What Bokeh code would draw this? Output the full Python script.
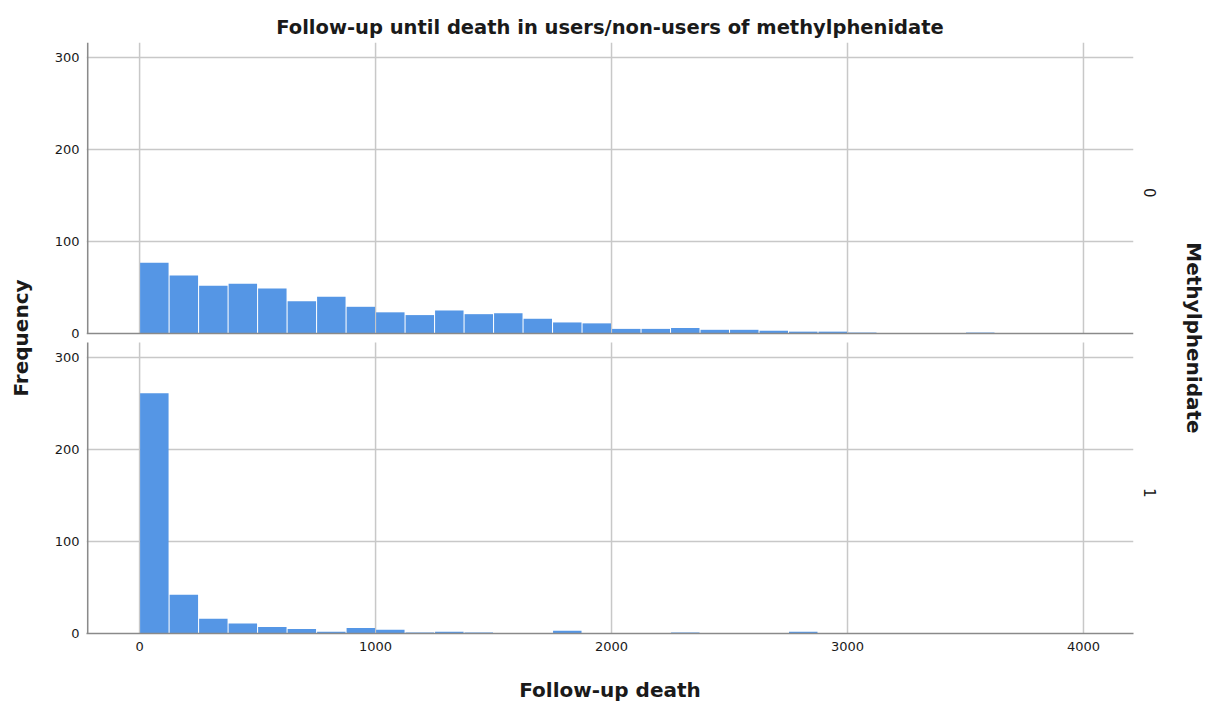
import math
import numpy as np
from bokeh.plotting import figure
from bokeh.models import Range1d, FixedTicker, LinearAxis, Span, ColumnDataSource
from bokeh.embed import file_html
from bokeh.resources import INLINE

# ---------------- data ----------------
bin_width = 125
# counts per 125-day bin, starting at 0 (bins 0-125, 125-250, ...)
counts_methyl0 = [77, 63, 52, 54, 49, 35, 40, 29, 23, 20, 25, 21, 22, 16, 12, 11,
                  5, 5, 6, 4, 4, 3, 2, 2, 1, 0, 0, 0, 1]
counts_methyl1 = [261, 42, 16, 11, 7, 5, 2, 6, 4, 1, 2, 1, 0, 0, 3, 0,
                  0, 0, 1, 0, 0, 0, 2, 0, 0, 0, 0, 0, 0]
x_ticks = [0, 1000, 2000, 3000, 4000]
y_ticks = [0, 100, 200, 300]
panel_labels = ["0", "1"]  # top panel, bottom panel

# ---------------- layout constants ----------------
TOP_OFFSET = 326        # data offset of the upper panel
PANEL_SPAN = 316.2      # visible height of one panel (data units)
Y_MAX = TOP_OFFSET + PANEL_SPAN
X_LO, X_HI = -225, 4212
AXIS_X = -220

BAR = "#5596e5"
GRID = "#c8c8c8"
AXIS = "#8a8a8a"
FONT = "DejaVu Sans"
TXT = "#1a1a1a"

p = figure(width=1208, height=704, x_range=Range1d(X_LO, X_HI), y_range=Range1d(0, Y_MAX),
           output_backend="svg", toolbar_location=None,
           min_border_left=86, min_border_right=75, min_border_top=42, min_border_bottom=71,
           title="Follow-up until death in users/non-users of methylphenidate")
p.outline_line_color = None
p.background_fill_color = "white"
p.border_fill_color = "white"

p.title.align = "center"
p.title.text_font = FONT
p.title.text_font_size = "19.5px"
p.title.text_font_style = "bold"
p.title.text_color = TXT
p.title.standoff = 8

# grids
p.xgrid.visible = False
p.ygrid.ticker = FixedTicker(ticks=[t for t in y_ticks if t > 0] + [t + TOP_OFFSET for t in y_ticks if t > 0])
p.ygrid.grid_line_color = GRID
p.ygrid.grid_line_width = 1.5

for off in (0, TOP_OFFSET):
    p.segment(x0=x_ticks, x1=x_ticks, y0=[off] * len(x_ticks), y1=[off + PANEL_SPAN] * len(x_ticks),
              line_color=GRID, line_width=1.5)

# bars
edges = np.arange(len(counts_methyl0) + 1) * bin_width
centers = (edges[:-1] + edges[1:]) / 2
for counts, off in ((counts_methyl0, TOP_OFFSET), (counts_methyl1, 0)):
    c = np.array(counts)
    m = c > 0
    src = ColumnDataSource(dict(x=centers[m], top=c[m] + off, bottom=np.full(m.sum(), off)))
    p.vbar(x="x", top="top", bottom="bottom", width=bin_width * 0.965, source=src,
           fill_color=BAR, line_color=None)

# panel axis lines
for off in (0, TOP_OFFSET):
    p.segment(x0=[AXIS_X], x1=[AXIS_X], y0=[off], y1=[off + PANEL_SPAN], line_color=AXIS, line_width=1.6)
p.add_layout(Span(location=TOP_OFFSET, dimension="width", line_color=AXIS, line_width=1.6))

# left axis
la = p.left[0]
la.ticker = FixedTicker(ticks=y_ticks + [t + TOP_OFFSET for t in y_ticks])
la.major_label_overrides = {t + TOP_OFFSET: str(t) for t in y_ticks}
la.axis_line_color = None
la.major_tick_line_color = None
la.minor_tick_line_color = None
la.major_tick_out = 0
la.major_tick_in = 0
la.major_label_standoff = 7
la.major_label_text_font = FONT
la.major_label_text_font_size = "13px"
la.major_label_text_color = TXT
la.axis_label = "Frequency"
la.axis_label_text_font = FONT
la.axis_label_text_font_size = "20px"
la.axis_label_text_font_style = "bold"
la.axis_label_text_color = TXT
la.axis_label_standoff = 19

# bottom axis
ba = p.below[0]
ba.ticker = FixedTicker(ticks=x_ticks)
ba.axis_line_color = AXIS
ba.axis_line_width = 1.6
ba.major_tick_line_color = None
ba.minor_tick_line_color = None
ba.major_tick_out = 0
ba.major_tick_in = 0
ba.major_label_standoff = 8
ba.major_label_text_font = FONT
ba.major_label_text_font_size = "13px"
ba.major_label_text_color = TXT
ba.axis_label = "Follow-up death"
ba.axis_label_text_font = FONT
ba.axis_label_text_font_size = "20px"
ba.axis_label_text_font_style = "bold"
ba.axis_label_text_color = TXT
ba.axis_label_standoff = 24

# right axis with facet labels
mid_bottom = int(round(PANEL_SPAN / 2))
mid_top = int(round(TOP_OFFSET + PANEL_SPAN / 2))
ra = LinearAxis(ticker=FixedTicker(ticks=[mid_bottom, mid_top]),
                major_label_overrides={mid_top: panel_labels[0], mid_bottom: panel_labels[1]},
                major_label_orientation=-math.pi / 2,
                axis_line_color=None, major_tick_line_color=None, minor_tick_line_color=None,
                major_tick_out=0, major_tick_in=0, major_label_standoff=16,
                major_label_text_font=FONT, major_label_text_font_size="15px",
                major_label_text_color=TXT,
                axis_label="Methylphenidate", axis_label_text_font=FONT,
                axis_label_text_font_size="20px", axis_label_text_font_style="bold",
                axis_label_text_color=TXT, axis_label_standoff=17)
p.add_layout(ra, "right")

open("out.html", "w").write(file_html(p, INLINE))
